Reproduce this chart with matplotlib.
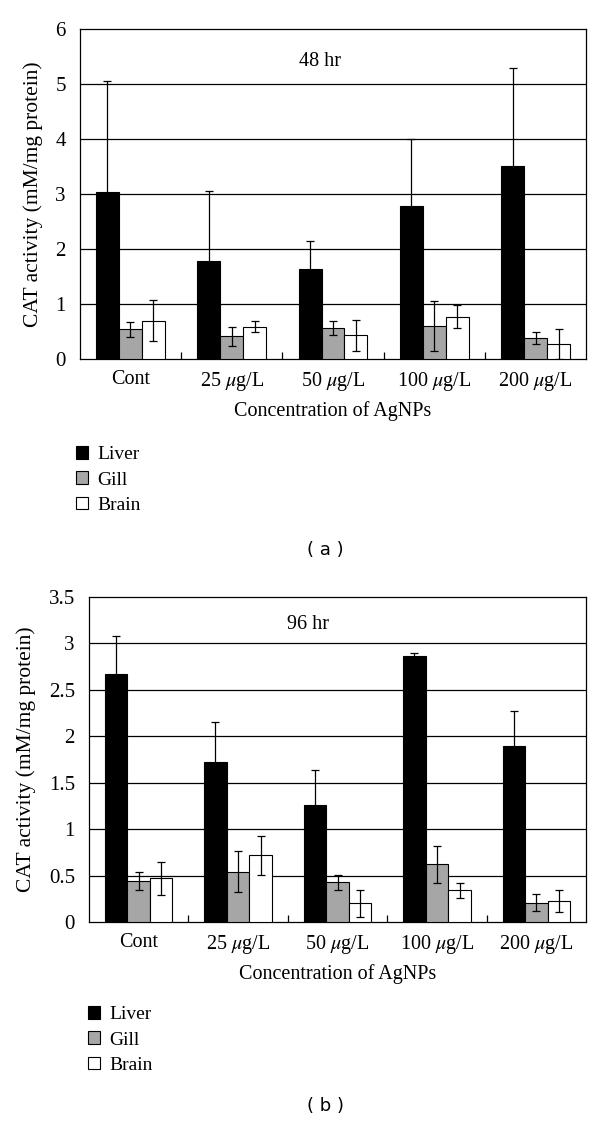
import numpy as np
import matplotlib.pyplot as plt
from matplotlib.patches import Patch

plt.rcParams['font.family'] = ['Liberation Serif', 'DejaVu Serif']
plt.rcParams['mathtext.fontset'] = 'stix'

categories = ['Cont', r'25 $\mu$g/L', r'50 $\mu$g/L', r'100 $\mu$g/L', r'200 $\mu$g/L']
tissues = ['Liver', 'Gill', 'Brain']
colors = ['black', '#a6a6a6', 'white']

# 48 hr
liver_48 = [3.04, 1.78, 1.63, 2.78, 3.51]
liver_48_err = [2.01, 1.27, 0.52, 1.22, 1.79]
gill_48 = [0.54, 0.41, 0.56, 0.60, 0.38]
gill_48_err = [0.14, 0.18, 0.13, 0.46, 0.11]
brain_48 = [0.70, 0.59, 0.43, 0.77, 0.27]
brain_48_err = [0.37, 0.10, 0.28, 0.21, 0.27]

# 96 hr
liver_96 = [2.67, 1.72, 1.26, 2.86, 1.90]
liver_96_err = [0.41, 0.43, 0.38, 0.04, 0.37]
gill_96 = [0.44, 0.54, 0.43, 0.62, 0.21]
gill_96_err = [0.10, 0.22, 0.08, 0.20, 0.09]
brain_96 = [0.47, 0.72, 0.20, 0.34, 0.23]
brain_96_err = [0.18, 0.21, 0.15, 0.08, 0.12]

FS = 15


def draw_panel(ax, series, errs, ymax, ystep, label_text, label_x, label_y):
    x = np.arange(len(categories))
    w = 0.227
    for i, (vals, err) in enumerate(zip(series, errs)):
        ax.bar(x + (i - 1) * w, vals, w, color=colors[i], edgecolor='black',
               linewidth=0.8, zorder=3)
        ax.errorbar(x + (i - 1) * w, vals, yerr=err, fmt='none', ecolor='black',
                    elinewidth=0.9, capsize=3, capthick=0.9, zorder=4)
    ax.set_xlim(-0.5, len(categories) - 0.5)
    ax.set_ylim(0, ymax)
    yt = np.arange(0, ymax + 1e-9, ystep)
    ax.set_yticks(yt)
    ax.set_yticklabels(['%g' % v for v in yt])
    for v in yt[1:-1]:
        ax.axhline(v, color='black', linewidth=0.9, zorder=1)
    ax.set_xticks(x)
    ax.set_xticklabels(categories)
    ax.set_xticks(x[:-1] + 0.5, minor=True)
    ax.tick_params(axis='x', which='major', length=0, labelsize=FS - 0.5, pad=8)
    ax.tick_params(axis='x', which='minor', length=5, direction='in', width=0.9)
    ax.tick_params(axis='y', length=0, labelsize=FS, pad=10)
    for s in ax.spines.values():
        s.set_linewidth(0.9)
    ax.set_ylabel('CAT activity (mM/mg protein)', fontsize=FS + 0.5, labelpad=9)
    ax.set_xlabel('Concentration of AgNPs', fontsize=FS - 0.5, labelpad=6)
    ax.text(label_x, label_y, label_text, ha='center', va='center', fontsize=FS - 0.5)


fig = plt.figure(figsize=(6, 11.25), dpi=100)

ax1 = fig.add_axes([0.133, 1 - 359 / 1125, 0.844, 330 / 1125])
draw_panel(ax1, [liver_48, gill_48, brain_48], [liver_48_err, gill_48_err, brain_48_err],
           6, 1, '48 hr', 1.87, 5.4)

ax2 = fig.add_axes([0.148, 1 - 922 / 1125, 0.829, 325 / 1125])
draw_panel(ax2, [liver_96, gill_96, brain_96], [liver_96_err, gill_96_err, brain_96_err],
           3.5, 0.5, '96 hr', 1.70, 3.2)

handles = [Patch(facecolor=c, edgecolor='black', linewidth=0.8) for c in colors]
for ypos, xpos in [(1 - 480 / 1125, 76 / 600), (1 - 1040 / 1125, 88 / 600)]:
    fig.legend(handles, tissues, loc='center left', bbox_to_anchor=(xpos, ypos),
               frameon=False, fontsize=FS - 1, handlelength=0.6, handleheight=0.6,
               handletextpad=0.5, labelspacing=0.42, borderpad=0, borderaxespad=0)

fig.text(0.542, 1 - 550 / 1125, '( a )', ha='center', va='center',
         fontsize=13, family='DejaVu Sans')
fig.text(0.542, 1 - 1106 / 1125, '( b )', ha='center', va='center',
         fontsize=13, family='DejaVu Sans')

fig.savefig('out.png', dpi=100)
